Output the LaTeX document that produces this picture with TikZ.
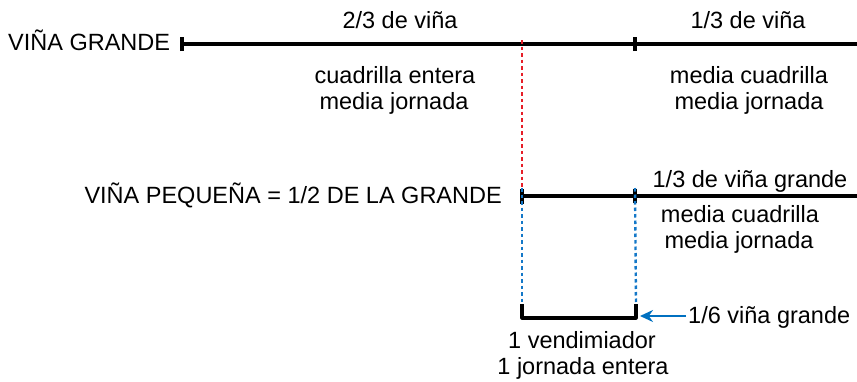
\documentclass[tikz,border=0pt]{standalone}
\usepackage{fontspec}
\setmainfont{Liberation Sans}
\usetikzlibrary{arrows.meta}
\definecolor{dotred}{RGB}{230,30,40}
\definecolor{dotblue}{RGB}{20,120,200}
\definecolor{arrowblue}{RGB}{0,112,192}
\tikzset{
  lbl/.style={inner sep=0pt, anchor=base, font=\fontsize{23.5}{27}\selectfont},
  mainline/.style={line width=3.2pt, black},
  tickmark/.style={line width=3.2pt, black},
  reddots/.style={dotred, line width=2.4pt, dash pattern=on 3.5pt off 3pt},
  bluedots/.style={dotblue, line width=2.4pt, dash pattern=on 3.5pt off 3pt},
}
\begin{document}
\begin{tikzpicture}[x=1pt,y=-1pt]
\useasboundingbox (0,0) rectangle (857,381);
% coordinates
\coordinate (A0) at (182,44);
\coordinate (A1) at (635,44);
\coordinate (A2) at (857,44);
\coordinate (Ar) at (522,44);
\coordinate (B0) at (522,196);
\coordinate (B1) at (635,196);
\coordinate (B2) at (857,196);
\coordinate (C0) at (522,318);
\coordinate (C1) at (636,318);
\coordinate (Ctop0) at (522,304);
\coordinate (Ctop1) at (636,304);
\coordinate (Aend) at (686,316);
\coordinate (Atip) at (640,316);
% top line
\draw[mainline] (A0) -- (A2);
\draw[tickmark] ([yshift=-7]A0) -- ([yshift=7]A0);
\draw[tickmark] ([yshift=-7]A1) -- ([yshift=7]A1);
% red dotted
\draw[reddots] ([yshift=4]Ar) -- ([yshift=-4]B0);
% second line
\draw[mainline] (B0) -- (B2);
\draw[tickmark] ([yshift=-8]B0) -- ([yshift=7]B0);
\draw[tickmark] ([yshift=-7]B1) -- ([yshift=7]B1);
% blue dotted
\draw[bluedots] ([yshift=8]B0) -- (Ctop0);
\draw[bluedots] ([yshift=8]B1) -- (Ctop1);
% bracket
\draw[mainline, line join=round] (Ctop0) -- (C0) -- (C1) -- (Ctop1);
% arrow
\draw[arrowblue, line width=2.4pt, -{Stealth[length=13pt,width=12pt]}] (Aend) -- (Atip);
% labels
\node[lbl, anchor=base west] (vg) at (8,50) {VIÑA GRANDE};
\node[lbl] (t1) at (400,28) {2/3 de viña};
\node[lbl] (t2) at (748,28) {1/3 de viña};
\node[lbl] (t3) at (395,83) {cuadrilla entera};
\node[lbl] (t4) at (394,109) {media jornada};
\node[lbl] (t5) at (749,83) {media cuadrilla};
\node[lbl] (t6) at (749,109) {media jornada};
\node[lbl, anchor=base east] (vp) at (502,203) {VIÑA PEQUEÑA = 1/2 DE LA GRANDE};
\node[lbl] (t7) at (750,187) {1/3 de viña grande};
\node[lbl] (t8) at (740,222) {media cuadrilla};
\node[lbl] (t9) at (739,248) {media jornada};
\node[lbl, anchor=base west] (t10) at (688,323) {1/6 viña grande};
\node[lbl] (t11) at (582,348) {1 vendimiador};
\node[lbl] (t12) at (583,374) {1 jornada entera};
\end{tikzpicture}
\end{document}
